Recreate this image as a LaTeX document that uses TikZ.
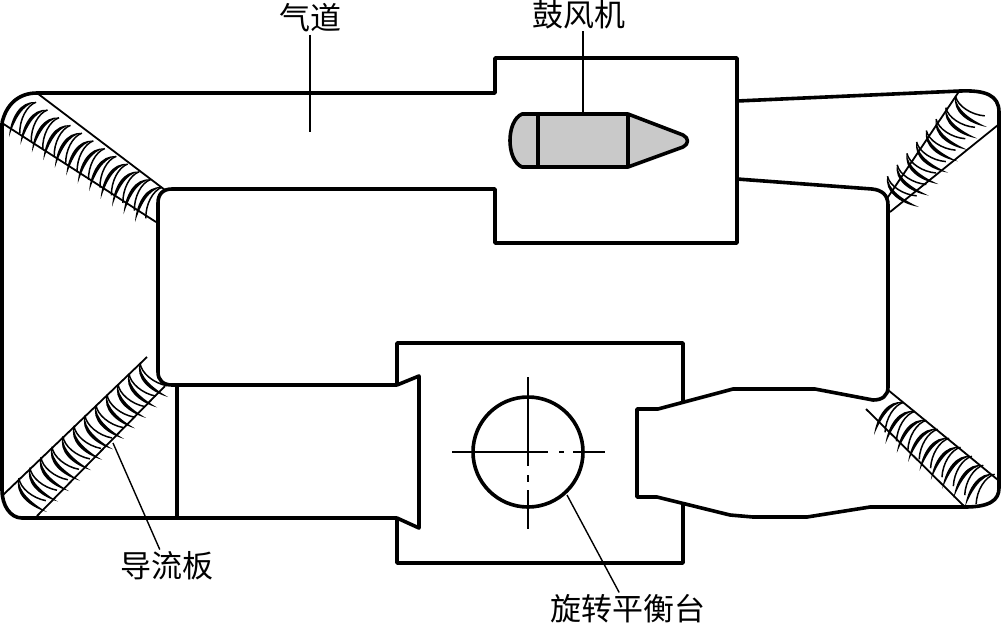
\documentclass[tikz,border=0pt]{standalone}
\usepackage{fontspec}
\usepackage{tikz}
\setmainfont{Noto Sans CJK SC}
\usetikzlibrary{positioning}

\tikzset{
  duct/.style={line width=3.6pt,line join=round},
  thinline/.style={line width=1.8pt},
  leader/.style={line width=1.4pt},
  lbl/.style={font=\fontsize{31}{31}\selectfont,inner sep=2pt},
  vane/.pic={
    \fill[black] (0,0) .. controls (-10,-17) and (-11,-37) .. (3,-44)
      .. controls (-7,-35) and (-5,-17) .. (0,0);
    \draw[line width=1.5pt] (7,-9) .. controls (-1,-20) and (-3,-36) .. (3,-44);
  }
}

\begin{document}
\begin{tikzpicture}[x=1pt,y=-1pt]
    \useasboundingbox (0,0) rectangle (1001,625);

    % labels
    \node[lbl] (lblduct) at (310,18) {气道};
    \node[lbl] (lblfan) at (579,15) {鼓风机};
    \node[lbl] (lblvane) at (167,566) {导流板};
    \node[lbl] (lbltable) at (628,609) {旋转平衡台};
    \coordinate (ductend) at (310,132);
    \coordinate (fanend) at (583,114);
    \coordinate (vaneend) at (113,443);
    \coordinate (tableend) at (567,495);

    % fan
    \draw[duct,fill=black!21] (522,114) -- (628,114) -- (683,135)
      .. controls (689,138) and (689,144) .. (683,147) -- (628,167) -- (522,167)
      .. controls (506,160) and (506,121) .. (522,114) -- cycle;
    \draw[duct] (538,114) -- (538,167);
    \draw[duct] (628,114) -- (628,167);

    % duct walls
    \draw[duct] (2,123) .. controls (6,105) and (18,93) .. (37,93) -- (495,93) -- (495,58)
      -- (737,58) -- (737,243) -- (495,243) -- (495,189) -- (172,189)
      .. controls (163,189) and (158,194) .. (158,203) -- (158,372)
      .. controls (158,380) and (163,385) .. (172,385) -- (397,385) -- (397,343)
      -- (683,343) -- (683,402);
    \draw[duct] (683,505) -- (683,563) -- (397,563) -- (397,518) -- (22,518)
      .. controls (10,518) and (2,505) .. (2,490) -- (2,123);
    \draw[duct] (397,385) -- (419,376) -- (419,528) -- (397,518);
    \draw[duct] (177,385) -- (177,518);
    \draw[duct] (737,101) -- (960,91) .. controls (985,90) and (999,95) .. (999,112)
      -- (999,488) .. controls (999,500) and (990,507) .. (965,507) -- (870,507)
      -- (807,517) -- (753,517) -- (730,515) -- (657,497) -- (637,497) -- (637,409)
      -- (658,409) -- (733,389) -- (815,389) -- (873,400)
      .. controls (882,400) and (888,396) .. (888,387) -- (888,205)
      .. controls (888,195) and (882,190) .. (872,189) -- (737,179);

    % turning vanes
    \foreach \sx/\sy/\ang/\len/\num in {9/137/-34/152/12,47/512/43.5/167/12,919/207/49.6/105/8,874/435/-38.3/116/9} {
      \begin{scope}[shift={(\sx,\sy)},rotate=\ang]
        \foreach \k in {1,...,\num} {
          \pgfmathsetmacro{\u}{(\k-1)*\len/(\num-1)}
          \pic[transform shape] at (\u,0) {vane};
        }
      \end{scope}
    }
    \foreach \ax/\ay/\bx/\by in {37/93/165/190,2/123/156/222,3/495/147/357,37/516/165/386,960/90/886/200,998/125/890/212,888/390/998/480,866/409/965/507}
      \draw[thinline] (\ax,\ay) -- (\bx,\by);

    % turntable
    \draw[duct] (528,452) circle (55);
    \draw[thinline,dash pattern=on 96pt off 11pt on 5pt off 9pt on 32pt] (452,452) -- (605,452);
    \draw[thinline,dash pattern=on 89pt off 9pt on 7pt off 8pt on 39pt] (528,377) -- (528,529);

    % leaders
    \draw[leader] (lblduct) -- (ductend);
    \draw[leader] (lblfan.south -| fanend) -- (fanend);
    \draw[leader] (lblvane) -- (vaneend);
    \draw[leader] (lbltable) -- (tableend);
\end{tikzpicture}
\end{document}
